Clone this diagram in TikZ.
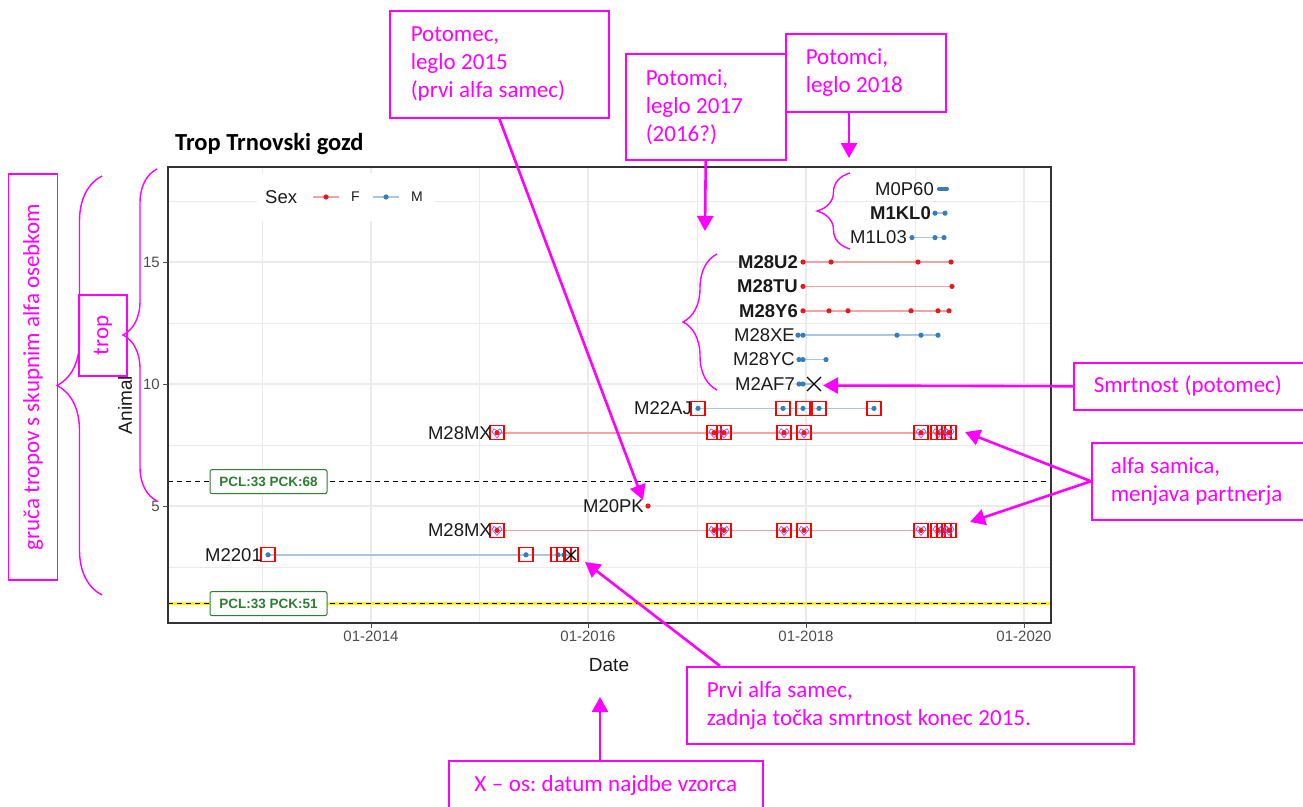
\documentclass[tikz,border=0pt]{standalone}
\usepackage{fontspec}
\setmainfont{Liberation Sans}
\newfontfamily\calfnt{Carlito}
\usetikzlibrary{arrows.meta,decorations.pathreplacing}
\definecolor{mag}{HTML}{FF00FF}
\definecolor{ggred}{HTML}{E41A1C}
\definecolor{ggblue}{HTML}{377EB8}
\definecolor{lred}{HTML}{F4A3A4}
\definecolor{lblue}{HTML}{A9C7E2}
\definecolor{gridc}{HTML}{EBEBEB}
\definecolor{tickc}{HTML}{4D4D4D}
\definecolor{pclg}{HTML}{2E7D32}
\definecolor{heartc}{HTML}{A64DFF}
\definecolor{labc}{HTML}{1A1A1A}
\frenchspacing
\newcommand{\magfont}{\calfnt\fontsize{23}{28}\selectfont}
\begin{document}
\begin{tikzpicture}[x=1pt,y=-1pt,
 magbox/.style={draw=mag, line width=1.5pt, text=mag, font=\magfont, align=left, anchor=north west, inner ysep=0pt, execute at begin node={\spaceskip=0.24em plus 0.1em minus 0.05em\relax\xspaceskip=0.24em\relax}},
 rotbox/.style={draw=mag, line width=1.5pt, text=mag, font=\magfont, rotate=90, inner sep=0pt},
 magarrow/.style={draw=mag, line width=2.6pt, -{Triangle[length=15pt,width=16pt]}},
 magbrace/.style={draw=mag, line width=1.4pt, decorate, decoration={brace, amplitude=#1}},
 lbl/.style={font=\fontsize{18.5}{19}\selectfont, text=labc, anchor=east, inner sep=0pt},
 blbl/.style={lbl, font=\bfseries\fontsize{18.5}{19}\selectfont},
 tick/.style={font=\fontsize{15}{15}\selectfont, text=tickc, inner sep=0pt},
 pcl/.style={draw=pclg, fill=white, rounded corners=2pt, line width=1pt, text=pclg, font=\bfseries\fontsize{13.5}{14}\selectfont, minimum width=117pt, minimum height=24pt, inner sep=0pt},
 rline/.style={lred, line width=1.5pt},
 bline/.style={lblue, line width=1.5pt},
 gmaj/.style={gridc, line width=1.1pt},
 gmin/.style={gridc, line width=0.6pt},
 sqbox/.style={red, line width=1.3pt}
]
\useasboundingbox (0,0) rectangle (1303,806);
\fill[white] (0,0) rectangle (1303,806);

% grid
\foreach \gx in {262,479,697,915} \draw[gmin] (\gx,167) -- (\gx,623);
\foreach \gx in {371,588,806,1024} \draw[gmaj] (\gx,167) -- (\gx,623);
\foreach \gy in {567,445,323,201} \draw[gmin] (168,\gy) -- (1051,\gy);
\foreach \gy in {506,384,262} \draw[gmaj] (168,\gy) -- (1051,\gy);

% reference lines
\draw[black, line width=1.1pt, dash pattern=on 5pt off 4pt] (168,481.6) -- (1051,481.6);
\draw[yellow, line width=2.6pt] (168,603.6) -- (1051,603.6);
\draw[black, line width=1pt, dash pattern=on 5pt off 4pt] (168,603.6) -- (1051,603.6);

% rows 16-18 (blue)
\draw[ggblue, line width=4pt, line cap=round] (939,188.8) -- (947,188.8);
\draw[bline] (935,213.2) -- (945,213.2);
\foreach \xx in {935,945} \fill[ggblue] (\xx,213.2) circle (2.6);
\draw[bline] (912,237.6) -- (944,237.6);
\foreach \xx in {912,935,944} \fill[ggblue] (\xx,237.6) circle (2.6);

% rows 13-15 (red)
\draw[rline] (803,262) -- (951,262);
\foreach \xx in {803,831,918,951} \fill[ggred] (\xx,262) circle (2.6);
\draw[rline] (803,286.4) -- (952,286.4);
\foreach \xx in {803,952} \fill[ggred] (\xx,286.4) circle (2.6);
\draw[rline] (803,310.8) -- (949,310.8);
\foreach \xx in {803,829,848,911,938,949} \fill[ggred] (\xx,310.8) circle (2.6);

% rows 10-12 (blue)
\draw[bline] (798,335.2) -- (938,335.2);
\foreach \xx in {798,803,897,921,938} \fill[ggblue] (\xx,335.2) circle (2.6);
\draw[bline] (799,359.6) -- (826,359.6);
\foreach \xx in {799,803,826} \fill[ggblue] (\xx,359.6) circle (2.6);
\draw[bline] (799,384) -- (814,384);
\foreach \xx in {799,803} \fill[ggblue] (\xx,384) circle (2.6);
\draw[black, line width=1.1pt] (807,377) -- (821,391) (807,391) -- (821,377);

% row 9 M22AJ
\draw[bline] (698,408.4) -- (874,408.4);
\foreach \xx in {698,783,803,819,874} {
  \fill[ggblue] (\xx,408.4) circle (2.6);
  \draw[sqbox] (\xx-7,401.4) rectangle (\xx+7,415.4);
}

% rows 8 and 4 M28MX
\foreach \yy in {432.8,530.4} {
  \draw[rline] (497,\yy) -- (949,\yy);
  \foreach \xx in {497,714,724,784,804,921,938,944,949} {
    \draw[heartc, line width=0.7pt] (\xx,\yy+5) -- (\xx-5,\yy-1) -- (\xx-3,\yy-4) -- (\xx,\yy-2) -- (\xx+3,\yy-4) -- (\xx+5,\yy-1) -- cycle;
    \fill[ggred] (\xx,\yy) circle (2.6);
    \draw[sqbox] (\xx-7,\yy-7) rectangle (\xx+7,\yy+7);
  }
}

% row 5 M20PK
\fill[ggred] (648,506) circle (2.6);

% row 3 M2201
\draw[bline] (268,554.8) -- (571,554.8);
\foreach \xx in {268,526,558,564} \fill[ggblue] (\xx,554.8) circle (2.6);
\foreach \xx in {268,526,558,564,571} \draw[sqbox] (\xx-7,547.8) rectangle (\xx+7,561.8);
\draw[black, line width=1.1pt] (566,550) -- (576,560) (566,560) -- (576,550);

% PCL labels
\node[pcl] (pcla) at (268.5,481.6) {PCL:33 PCK:68};
\node[pcl] (pclb) at (268.5,603.6) {PCL:33 PCK:51};

% row labels
\node[lbl]  (l18) at (934,188.8) {M0P60};
\node[blbl] (l17) at (931,213.2) {M1KL0};
\node[lbl]  (l16) at (907,237.6) {M1L03};
\node[blbl] (l15) at (798,262) {M28U2};
\node[blbl] (l14) at (798,286.4) {M28TU};
\node[blbl] (l13) at (798,310.8) {M28Y6};
\node[lbl]  (l12) at (795,335.2) {M28XE};
\node[lbl]  (l11) at (795,359.6) {M28YC};
\node[lbl]  (l10) at (795,384) {M2AF7};
\node[lbl]  (l9) at (692,408.4) {M22AJ};
\node[lbl]  (l8) at (492,432.8) {M28MX};
\node[lbl]  (l5) at (644,506) {M20PK};
\node[lbl]  (l4) at (492,530.4) {M28MX};
\node[lbl]  (l3) at (262,554.8) {M2201};

% legend
\fill[white] (257,173) rectangle (435,221);
\node[font=\fontsize{18.5}{19}\selectfont, text=labc, anchor=west, inner sep=0pt] (lgs) at (265,197) {Sex};
\draw[rline] (313,197) -- (339,197);
\fill[ggred] (326,197) circle (2.6);
\node[font=\fontsize{14}{14}\selectfont, text=labc, anchor=west, inner sep=0pt] (lgf) at (351,197) {F};
\draw[bline] (373,197) -- (399,197);
\fill[ggblue] (386,197) circle (2.6);
\node[font=\fontsize{14}{14}\selectfont, text=labc, anchor=west, inner sep=0pt] (lgm) at (411,197) {M};

% panel border
\draw[black!80, line width=1.1pt] (168,167) rectangle (1051,623);

% axes ticks and labels
\foreach \yy/\t in {262/15,384/10,506/5} {
  \draw[black!70, line width=1pt] (163,\yy) -- (168,\yy);
  \node[tick, anchor=east] at (160,\yy) {\t};
}
\foreach \xx/\t in {371/01-2014,588/01-2016,806/01-2018,1024/01-2020} {
  \draw[black!70, line width=1pt] (\xx,623) -- (\xx,628);
  \node[tick, anchor=north] at (\xx,631) {\t};
}
\node[font=\fontsize{19}{19}\selectfont, text=labc, inner sep=0pt] (xlab) at (609,665) {Date};
\node[font=\fontsize{19}{19}\selectfont, text=labc, inner sep=0pt, rotate=90] (ylab) at (125,405) {Animal};
\node[font=\calfnt\bfseries\fontsize{24.5}{25}\selectfont, anchor=base west, inner sep=0pt] (title) at (175,150) {Trop Trnovski gozd};

% braces
\draw[magbrace=45] (102,595) -- (102,176);
\draw[magbrace=34] (157,501) -- (157,169);
\draw[magbrace=34] (717,390) -- (717,254);
\draw[magbrace=33] (850,249) -- (850,173);

% annotation boxes
\node[magbox, inner xsep=21pt, text width=177pt, minimum height=107pt] (b1) at (389,10) {Potomec,\\leglo 2015\\(prvi alfa samec)};
\node[magbox, inner xsep=20pt, text width=120pt, minimum height=106pt] (b2) at (625,53) {Potomci,\\leglo 2017\\(2016?)};
\node[magbox, inner xsep=20pt, text width=120pt, minimum height=78pt] (b3) at (785,33) {Potomci,\\leglo 2018};
\node[magbox, inner xsep=20pt, text width=200pt, minimum height=47pt] (b4) at (1073,362) {Smrtnost (potomec)};
\node[magbox, inner xsep=19pt, text width=187pt, minimum height=77pt] (b5) at (1091,442) {alfa samica,\\menjava partnerja};
\node[magbox, inner xsep=20pt, text width=407pt, minimum height=77pt] (b6) at (686,666) {Prvi alfa samec,\\zadnja točka smrtnost konec 2015.};
\node[magbox, inner xsep=0pt, minimum width=314pt, minimum height=50pt] (b7) at (448,760) {X – os: datum najdbe vzorca};
\node[rotbox, minimum width=81pt, minimum height=48pt] (btrop) at (103,335.5) {trop};
\node[rotbox, minimum width=406pt, minimum height=49pt] (bgr) at (33,377) {gruča tropov s skupnim alfa osebkom};

% arrow endpoints
\coordinate (s3) at (849,111);
\coordinate (s6) at (720,666);
\coordinate (s7) at (600,760);
\coordinate (t1) at (643,500);
\coordinate (t2) at (705,231);
\coordinate (t3) at (849,158);
\coordinate (t4) at (823,385.5);
\coordinate (t5a) at (965,432);
\coordinate (t5b) at (970,522);
\coordinate (t6) at (585,562);
\coordinate (t7) at (600,697);

\draw[magarrow] (b1.south) -- (t1);
\draw[magarrow] (b2.south) -- (t2);
\draw[magarrow] (s3) -- (t3);
\draw[magarrow] (b4.west) -- (t4);
\draw[magarrow] (b5.west) -- (t5a);
\draw[magarrow] (b5.west) -- (t5b);
\draw[magarrow] (s6) -- (t6);
\draw[magarrow] (s7) -- (t7);
\end{tikzpicture}
\end{document}
